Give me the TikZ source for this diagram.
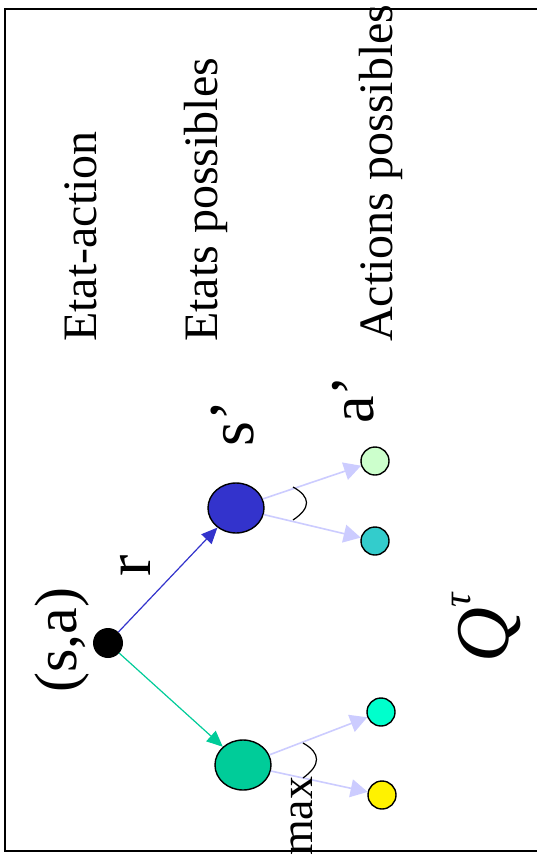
\documentclass[tikz,border=0pt]{standalone}
\usepackage{fontspec}
\setmainfont{Liberation Serif}
\usetikzlibrary{arrows.meta,shapes.geometric}
\definecolor{sblue}{HTML}{3333CC}
\definecolor{sgreen}{HTML}{00CC99}
\definecolor{amint}{HTML}{CCFFCC}
\definecolor{ateal}{HTML}{33CCCC}
\definecolor{aqua}{HTML}{00FFCC}
\definecolor{lav}{HTML}{CCCCFF}
\newcommand{\sz}[1]{\fontsize{#1}{#1}\selectfont}

\begin{document}
\begin{tikzpicture}[x=1pt, y=-1pt,
  dot/.style={circle,draw,line width=1.4pt,minimum size=28pt,inner sep=0pt},
  state/.style={ellipse,draw,line width=1.4pt,minimum width=56pt,minimum height=50pt,inner sep=0pt},
  lbl/.style={rotate=90,anchor=base west,inner sep=0pt},
  trans/.style={-{Triangle[length=16pt,width=14pt]},line width=1.2pt},
  lite/.style={-{Triangle[length=17pt,width=18pt]},draw=lav,line width=1.6pt}]
  \fill[white] (0,0) rectangle (536,867);
  \useasboundingbox (0,0) rectangle (536,867);
  \draw[line width=2pt] (540,9) -- (5,9) -- (5,851) -- (540,851);

  \node[lbl] (t1) at (96,342) {\sz{48}Etat-action};
  \node[lbl] (t2) at (217,342) {\sz{48}Etats possibles};
  \node[lbl] (t3) at (392,342) {\sz{48}Actions possibles};

  \node[circle,fill=black,minimum size=30pt,inner sep=0pt] (sa) at (108,643) {};
  \node[state,fill=sblue] (sp) at (236,508) {};
  \node[state,fill=sgreen] (sq) at (243,765) {};
  \node[dot,fill=amint] (a1) at (375,461) {};
  \node[dot,fill=ateal] (a2) at (375,541) {};
  \node[dot,fill=aqua] (a3) at (381,712) {};
  \node[dot,fill=yellow] (a4) at (382,795) {};

  \draw[trans,sblue] (sa) -- (sp);
  \draw[trans,sgreen] (sa) -- (sq);
  \foreach \a in {a1,a2} { \draw[lite] (sp) -- (\a); }
  \foreach \a in {a3,a4} { \draw[lite] (sq) -- (\a); }
  \draw[line width=1.2pt] (293,487) .. controls (311,497) and (311,508) .. (293,520);
  \draw[line width=1.2pt] (303,743) .. controls (321,753) and (321,765) .. (303,778);

  \node[lbl] (sal) at (76,693) {\sz{60}(s,a)};
  \node[lbl] (rl) at (150,577) {\sz{64}r};
  \node[lbl] (spl) at (253,447) {\sz{64}s’};
  \node[lbl] (apl) at (373,424) {\sz{62}a’};
  \node[lbl] (mx) at (312,856) {\sz{46}max};
  \node[lbl] (q) at (508,663) {\sz{76}\itshape Q\raisebox{0.5em}{\sz{40}τ}};
\end{tikzpicture}
\end{document}
